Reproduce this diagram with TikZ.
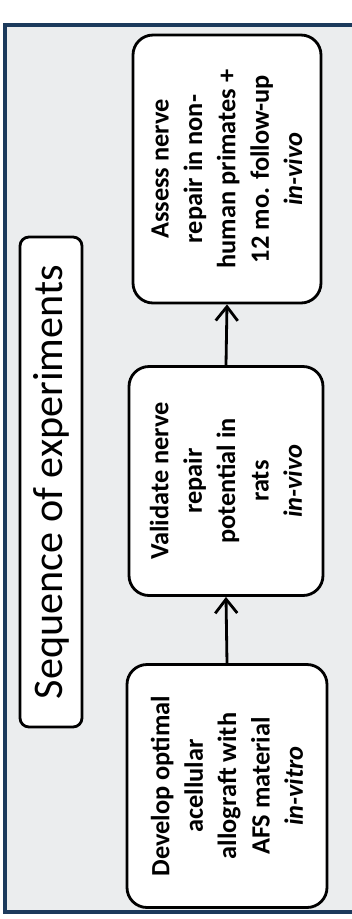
\documentclass[tikz,border=0pt]{standalone}
\usepackage{fontspec}
\setmainfont{Carlito}
\usetikzlibrary{arrows.meta}
\definecolor{SEQnavy}{RGB}{28,58,92}
\definecolor{SEQgrey}{RGB}{235,237,238}

\begin{document}
\begin{tikzpicture}[x=0.1mm, y=-0.1mm,
	stepnode/.style={draw, thick, fill=white, rounded corners=2mm, rotate=90, align=center, inner sep=0.5mm, font=\fontsize{7.5}{9.5}\selectfont\bfseries},
	titlenode/.style={draw, thick, fill=white, rounded corners=0.9mm, rotate=90, minimum width=49mm, minimum height=6.2mm, inner sep=0, font=\fontsize{12}{14}\selectfont},
	link/.style={-{Straight Barb[length=1.4mm, width=2.2mm]}, thick}
	]
	\useasboundingbox (0,0) rectangle (352,919);
	% frame and background
	\fill [SEQgrey] (5,25) rectangle (360,912);
	\draw [SEQnavy, line width=1.4pt] (360,25) -- (5,25) -- (5,912) -- (360,912);

	\node (title) at (51,482) [titlenode] {Sequence of experiments};

	\node (dev) at (227,786) [stepnode, minimum width=24.3mm, minimum height=20mm]
		{Develop optimal\\acellular\\allograft with\\AFS material\\\textit{in-vitro}};
	\node (val) at (226,481) [stepnode, minimum width=22.9mm, minimum height=19.4mm]
		{Validate nerve\\repair\\potential in\\rats\\\textit{in-vivo}};
	\node (ass) at (227,169) [stepnode, minimum width=26.8mm, minimum height=18.8mm]
		{Assess nerve\\repair in non-\\human primates +\\12 mo. follow-up\\\textit{in-vivo}};

	\draw [link] (dev.east) -- (val.west);
	\draw [link] (val.east) -- (ass.west);
\end{tikzpicture}
\end{document}
